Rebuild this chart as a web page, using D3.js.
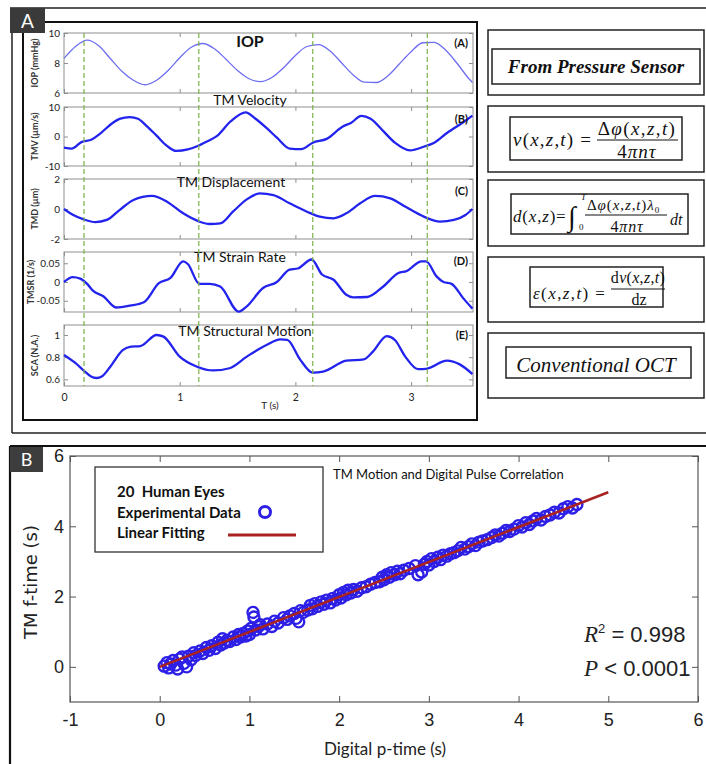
<!DOCTYPE html>
<html>
<head>
<meta charset="utf-8">
<script src="https://cdn.jsdelivr.net/npm/d3@7"></script>
<style>
  body { margin: 0; background: #fff; }
  svg { display: block; }
</style>
</head>
<body>
<div id="chart"></div>
<script>
// ---- Panel A traces (time in s) ----
const iopT = [0,0.1,0.2,0.3,0.4,0.5,0.6,0.7,0.8,0.9,1.0,1.1,1.2,1.3,1.4,1.5,1.6,1.7,1.8,1.9,2.0,2.1,2.2,2.3,2.4,2.5,2.6,2.7,2.8,2.9,3.0,3.1,3.2,3.3,3.4,3.5,3.53];
const iopV = [8.31,9.1,9.52,9.15,8.3,7.45,6.85,6.55,6.85,7.5,8.35,9.05,9.3,8.95,8.25,7.5,6.95,6.76,7.05,7.7,8.5,9.1,9.22,8.8,8.0,7.2,6.72,6.7,7.15,7.95,8.75,9.35,9.38,8.85,7.95,6.95,6.7];

const tmvT = [0,0.066,0.15,0.24,0.31,0.42,0.48,0.57,0.64,0.71,0.8,0.89,0.97,1.07,1.15,1.24,1.32,1.44,1.57,1.65,1.75,1.84,1.95,2.05,2.15,2.27,2.41,2.48,2.57,2.65,2.76,2.86,2.99,3.12,3.2,3.31,3.46,3.53];
const tmvV = [-3.8,-4.1,-1.9,-1.0,0.9,4.6,6.0,6.6,6.0,3.7,0.3,-3.2,-4.9,-4.4,-3.3,-1.6,0.1,5.1,8.2,6.2,2.9,-0.4,-4.1,-4.3,-2.1,-0.8,3.4,4.6,7.0,6.0,1.8,-2.1,-4.7,-3.3,-2.1,1.2,5.1,7.1];

const tmdT = [0,0.08,0.17,0.27,0.37,0.48,0.6,0.76,0.89,1.03,1.17,1.26,1.35,1.46,1.58,1.69,1.81,1.95,2.1,2.21,2.33,2.44,2.56,2.69,2.82,2.96,3.11,3.25,3.37,3.47,3.53];
const tmdV = [0,-0.4,-0.69,-0.87,-0.73,-0.07,0.6,0.87,0.49,-0.29,-0.84,-1.0,-0.96,-0.18,0.64,1.04,0.93,0.38,-0.18,-0.51,-0.62,-0.29,0.38,0.87,0.71,0.11,-0.51,-0.84,-0.73,-0.4,0];

const tmsrT = [0,0.075,0.14,0.2,0.25,0.34,0.45,0.57,0.69,0.82,0.92,1.03,1.07,1.17,1.26,1.35,1.51,1.58,1.72,1.84,1.95,2.02,2.14,2.23,2.33,2.44,2.5,2.62,2.76,2.89,2.96,3.09,3.13,3.22,3.28,3.35,3.45,3.53];
const tmsrV = [0,0.013,0.009,-0.005,-0.023,-0.038,-0.068,-0.063,-0.054,-0.003,0.011,0.055,0.048,-0.005,-0.005,-0.012,-0.079,-0.065,-0.016,0,0.033,0.036,0.06,0.02,0.006,-0.034,-0.041,-0.04,-0.012,0.024,0.029,0.055,0.055,0.015,0,-0.005,-0.043,-0.071];

const scaT = [0,0.095,0.18,0.23,0.28,0.33,0.4,0.51,0.58,0.66,0.8,0.86,1.0,1.15,1.29,1.43,1.58,1.75,1.87,1.93,2.04,2.15,2.24,2.44,2.59,2.67,2.79,2.86,2.95,3.06,3.13,3.31,3.42,3.53];
const scaV = [0.82,0.75,0.67,0.628,0.612,0.628,0.714,0.865,0.895,0.9,1.0,0.985,0.805,0.714,0.68,0.7,0.805,0.91,0.96,0.955,0.78,0.66,0.67,0.768,0.78,0.85,0.99,0.955,0.805,0.692,0.695,0.768,0.735,0.648];

const pulseMarks = [0.173, 1.165, 2.15, 3.14];
const timeTicks = [0, 1, 2, 3];

// ---- Panel B: TM f-time vs digital p-time ----
const pTime = [0.05,0.08,0.10,0.12,0.15,0.18,0.20,0.22,0.25,0.27,0.30,0.32,0.35,0.38,0.40,0.45,0.48,0.52,0.55,0.58,0.62,0.65,0.68,0.70,0.72,0.75,0.78,0.82,0.85,0.88,0.90,0.93,0.96,0.98,1.00,1.02,1.04,1.05,1.07,1.10,1.12,1.15,1.20,1.25,1.28,1.32,1.38,1.42,1.45,1.50,1.52,1.55,1.57,1.60,1.65,1.68,1.70,1.73,1.76,1.80,1.83,1.86,1.90,1.93,1.96,2.00,2.02,2.05,2.08,2.10,2.13,2.16,2.20,2.25,2.30,2.35,2.40,2.45,2.48,2.50,2.53,2.56,2.58,2.62,2.65,2.68,2.72,2.78,2.85,2.88,2.92,2.95,2.98,3.00,3.03,3.06,3.10,3.13,3.16,3.20,3.24,3.28,3.32,3.36,3.40,3.44,3.48,3.52,3.56,3.60,3.65,3.70,3.74,3.78,3.82,3.86,3.90,3.95,4.00,4.04,4.08,4.12,4.16,4.20,4.25,4.30,4.35,4.40,4.45,4.50,4.55,4.60,4.65];
const fTime = [0.02,0.12,-0.03,0.08,0.18,0.05,-0.06,0.22,0.28,0.10,0.00,0.30,0.20,0.40,0.32,0.45,0.38,0.55,0.47,0.60,0.52,0.70,0.62,0.80,0.68,0.75,0.72,0.85,0.78,0.92,0.85,0.95,0.88,1.02,0.92,1.10,1.55,1.42,1.05,1.15,1.20,1.08,1.22,1.15,1.30,1.25,1.40,1.35,1.45,1.52,1.38,1.28,1.60,1.55,1.62,1.75,1.65,1.80,1.72,1.85,1.78,1.90,1.82,1.95,1.90,2.05,1.96,2.12,2.05,2.18,2.10,2.20,2.15,2.25,2.28,2.35,2.40,2.42,2.55,2.48,2.62,2.55,2.68,2.62,2.72,2.65,2.75,2.80,2.88,2.62,2.70,2.92,3.00,2.90,3.08,3.00,3.12,3.05,3.18,3.15,3.22,3.25,3.30,3.40,3.35,3.42,3.50,3.45,3.55,3.58,3.62,3.68,3.75,3.72,3.80,3.88,3.85,3.92,4.02,3.98,4.10,4.05,4.15,4.22,4.18,4.28,4.32,4.40,4.38,4.50,4.56,4.52,4.62];
const fitX = [0, 5];
const fitY = [0, 4.97];
const bTicks = [-1, 0, 1, 2, 3, 4, 5, 6];
const bYLabels = [0, 2, 4, 6];

const W = 706, H = 764;
const SANS = "Lato, 'Open Sans', sans-serif";
const SERIF = "'Liberation Serif', 'Times New Roman', serif";
const NARROW = "'Liberation Sans Narrow', 'Liberation Sans', Arial, sans-serif";

const svg = d3.select("#chart").append("svg").attr("width", W).attr("height", H);
svg.append("rect").attr("width", W).attr("height", H).attr("fill", "#fff");

// ===== Panel A frames =====
svg.append("path").attr("d", "M10,8H706M12,8V433M12,433H706")
  .attr("fill", "none").attr("stroke", "#222").attr("stroke-width", 1.5);
svg.append("rect").attr("x", 23).attr("y", 22).attr("width", 454).attr("height", 398)
  .attr("fill", "none").attr("stroke", "#111").attr("stroke-width", 2);
svg.append("rect").attr("x", 10).attr("y", 8).attr("width", 35).attr("height", 25).attr("fill", "#3a3a3a");
svg.append("text").attr("x", 27.5).attr("y", 28).attr("text-anchor", "middle")
  .attr("font-family", SANS).attr("font-size", 19).attr("fill", "#fff").text("A");

const xA = d3.scaleLinear().domain([0, 3.535]).range([64, 473]);

const subplots = [
  { t: iopT, v: iopV, dom: [6, 10], ticks: [6, 8, 10], top: 33, bot: 93, ylab: "IOP (mmHg)", labX: 38,
    title: "IOP", tx: 250, ty: 47, tsize: 16, tweight: 700, tag: "(A)", tagY: 47, thin: true },
  { t: tmvT, v: tmvV, dom: [-10, 10], ticks: [-10, 0, 10], top: 107, bot: 166, ylab: "TMV (\u00b5m/s)", labX: 38,
    title: "TM Velocity", tx: 250, ty: 105, tsize: 14, tweight: 400, tag: "(B)", tagY: 123 },
  { t: tmdT, v: tmdV, dom: [-2, 2], ticks: [-2, 0, 2], top: 179, bot: 239, ylab: "TMD (\u00b5m)", labX: 38,
    title: "TM Displacement", tx: 231, ty: 187, tsize: 14, tweight: 400, tag: "(C)", tagY: 195 },
  { t: tmsrT, v: tmsrV, dom: [-0.08, 0.08], ticks: [-0.05, 0, 0.05], top: 252, bot: 312, ylab: "TMSR (1/s)", labX: 34,
    title: "TM Strain Rate", tx: 240, ty: 262, tsize: 14, tweight: 400, tag: "(D)", tagY: 265 },
  { t: scaT, v: scaV, dom: [0.54, 1.09], ticks: [0.6, 0.8, 1], top: 325, bot: 386, ylab: "SCA (N.A.)", labX: 38,
    title: "TM Structural Motion", tx: 245, ty: 336, tsize: 14, tweight: 400, tag: "(E)", tagY: 339, xlabels: true }
];

function styleAxis(sel, color) {
  sel.select(".domain").remove();
  sel.selectAll(".tick line").attr("stroke", color);
}

subplots.forEach(s => {
  const y = d3.scaleLinear().domain(s.dom).range([s.bot, s.top]);
  const g = svg.append("g");
  g.append("rect").attr("x", xA(0)).attr("y", s.top)
    .attr("width", xA.range()[1] - xA(0)).attr("height", s.bot - s.top)
    .attr("fill", "none").attr("stroke", "#8f8f8f").attr("stroke-width", 1);

  const axL = g.append("g").attr("transform", `translate(${xA(0)},0)`)
    .call(d3.axisLeft(y).tickValues(s.ticks).tickSize(-4).tickPadding(4).tickFormat(d => String(d)));
  styleAxis(axL, "#8f8f8f");
  axL.selectAll("text").attr("font-family", SANS).attr("font-size", 10).attr("fill", "#222");

  const axR = g.append("g").attr("transform", `translate(${xA.range()[1]},0)`)
    .call(d3.axisRight(y).tickValues(s.ticks).tickSize(-4).tickFormat(""));
  styleAxis(axR, "#8f8f8f");

  const axT = g.append("g").attr("transform", `translate(0,${s.top})`)
    .call(d3.axisTop(xA).tickValues(timeTicks).tickSize(-4).tickFormat(""));
  styleAxis(axT, "#8f8f8f");

  const axB = g.append("g").attr("transform", `translate(0,${s.bot})`)
    .call(d3.axisBottom(xA).tickValues(timeTicks).tickSize(-4).tickPadding(8)
      .tickFormat(s.xlabels ? (d => String(d)) : ""));
  styleAxis(axB, "#8f8f8f");
  axB.selectAll("text").attr("font-family", SANS).attr("font-size", 10.5).attr("fill", "#222");

  const line = d3.line().x(i => xA(s.t[i])).y(i => y(s.v[i])).curve(d3.curveMonotoneX);
  g.append("path").attr("d", line(d3.range(s.t.length)))
    .attr("fill", "none")
    .attr("stroke", s.thin ? "#6e6ef0" : "#2323ee")
    .attr("stroke-width", s.thin ? 1.3 : 2.3)
    .attr("stroke-linejoin", "round");

  g.append("text").attr("x", s.tx).attr("y", s.ty).attr("text-anchor", "middle")
    .attr("font-family", SANS).attr("font-size", s.tsize).attr("font-weight", s.tweight)
    .attr("fill", "#111").text(s.title);
  g.append("text").attr("x", 468).attr("y", s.tagY).attr("text-anchor", "end")
    .attr("font-family", SANS).attr("font-size", 11).attr("font-weight", 700)
    .attr("fill", "#111").text(s.tag);
  g.append("text")
    .attr("transform", `translate(${s.labX},${(s.top + s.bot) / 2}) rotate(-90)`)
    .attr("text-anchor", "middle").attr("font-family", SANS).attr("font-size", 9)
    .attr("font-weight", 700).attr("fill", "#333").text(s.ylab);
});

svg.append("text").attr("x", 270).attr("y", 409).attr("text-anchor", "middle")
  .attr("font-family", SANS).attr("font-size", 10).attr("fill", "#222").text("T (s)");

// green dashed markers across all panels
svg.append("g").selectAll("line").data(pulseMarks).join("line")
  .attr("x1", d => xA(d)).attr("x2", d => xA(d))
  .attr("y1", subplots[0].top).attr("y2", subplots[4].bot)
  .attr("stroke", "#7db24a").attr("stroke-width", 1.2).attr("stroke-dasharray", "5,3");

// ===== Right-hand method boxes =====
const outerBoxes = [[30, 95], [106, 172], [180, 246], [257, 322], [333, 398]];
svg.append("g").selectAll("rect").data(outerBoxes).join("rect")
  .attr("x", 488).attr("y", d => d[0]).attr("width", 216).attr("height", d => d[1] - d[0])
  .attr("fill", "none").attr("stroke", "#222").attr("stroke-width", 1.5);
const innerBoxes = [[492, 49, 208, 35], [510, 117, 172, 43], [511, 194, 177, 40], [530, 267, 133, 40], [506, 347, 185, 31]];
svg.append("g").selectAll("rect").data(innerBoxes).join("rect")
  .attr("x", d => d[0]).attr("y", d => d[1]).attr("width", d => d[2]).attr("height", d => d[3])
  .attr("fill", "none").attr("stroke", "#222").attr("stroke-width", 1.5);

// math text: letters italic, [..] roman
function mtext(x, y, str, size, anchor, spacing) {
  const t = svg.append("text").attr("x", x).attr("y", y).attr("text-anchor", anchor || "start")
    .attr("font-family", SERIF).attr("font-size", size).attr("fill", "#111")
    .attr("letter-spacing", spacing || 0)
    .style("white-space", "pre");
  let roman = false;
  for (const ch of str) {
    if (ch === "[") { roman = true; continue; }
    if (ch === "]") { roman = false; continue; }
    const it = !roman && /[A-Za-z\u03b1-\u03c9\u03c6]/.test(ch);
    t.append("tspan").attr("font-style", it ? "italic" : "normal").text(ch);
  }
  return t;
}
function bar(x1, x2, y) {
  svg.append("line").attr("x1", x1).attr("x2", x2).attr("y1", y).attr("y2", y)
    .attr("stroke", "#111").attr("stroke-width", 1);
}

svg.append("text").attr("x", 596).attr("y", 73).attr("text-anchor", "middle")
  .attr("font-family", SERIF).attr("font-size", 19).attr("font-style", "italic")
  .attr("font-weight", 700).attr("fill", "#111").text("From Pressure Sensor");

mtext(513, 146, "v(x,z,t) =", 19, "start", 1.2);
mtext(637, 135, "\u0394\u03c6(x,z,t)", 19, "middle", 1.4);
bar(597, 678, 140);
mtext(637, 158, "4\u03c0n\u03c4", 19, "middle", 1);

mtext(513, 222, "d(x,z)=", 17, "start", 0.8);
svg.append("text").attr("x", 568).attr("y", 226).attr("font-family", SERIF).attr("font-size", 28)
  .attr("fill", "#111").text("\u222b");
mtext(581, 200, "T", 9);
mtext(579, 230, "[0]", 9);
const num3 = mtext(587, 210, "\u0394\u03c6(x,z,t)\u03bb", 15, "start", 0.9);
num3.append("tspan").attr("font-size", 9).attr("dy", 3).attr("letter-spacing", 0).text("0");
bar(585, 667, 215);
mtext(627, 232, "4\u03c0n\u03c4", 16, "middle", 0.8);
mtext(670, 225, "dt", 16);

mtext(533, 299, "\u03b5(x,z,t) =", 17, "start", 1.4);
mtext(638, 283, "[d]v(x,z,t)", 16, "middle", 0.3);
bar(611, 665, 289);
mtext(639, 305, "[dz]", 16, "middle");

svg.append("text").attr("x", 596).attr("y", 372).attr("text-anchor", "middle")
  .attr("font-family", SERIF).attr("font-size", 21).attr("font-style", "italic")
  .attr("fill", "#111").text("Conventional OCT");

// ===== Panel B =====
svg.append("path").attr("d", "M10,446H706M10,446V764")
  .attr("fill", "none").attr("stroke", "#111").attr("stroke-width", 2.2);
svg.append("rect").attr("x", 10).attr("y", 447).attr("width", 33).attr("height", 25).attr("fill", "#3d3d3d");
svg.append("text").attr("x", 26.5).attr("y", 466).attr("text-anchor", "middle")
  .attr("font-family", SANS).attr("font-size", 18).attr("fill", "#fff").text("B");

const xB = d3.scaleLinear().domain([-1, 6]).range([70, 698]);
const yB = d3.scaleLinear().domain([-1, 6]).range([702, 456]);

svg.append("rect").attr("x", xB(-1)).attr("y", yB(6)).attr("width", xB(6) - xB(-1)).attr("height", yB(-1) - yB(6))
  .attr("fill", "none").attr("stroke", "#555").attr("stroke-width", 1.2);

const gB = svg.append("g");
const bx = gB.append("g").attr("transform", `translate(0,${yB(-1)})`)
  .call(d3.axisBottom(xB).tickValues(bTicks).tickSize(-6).tickPadding(11).tickFormat(d => String(d)));
styleAxis(bx, "#555");
bx.selectAll("text").attr("font-family", NARROW).attr("font-size", 18).attr("fill", "#222");
const bxt = gB.append("g").attr("transform", `translate(0,${yB(6)})`)
  .call(d3.axisTop(xB).tickValues(bTicks).tickSize(-6).tickFormat(""));
styleAxis(bxt, "#555");
const by = gB.append("g").attr("transform", `translate(${xB(-1)},0)`)
  .call(d3.axisLeft(yB).tickValues(bYLabels).tickSize(-6).tickPadding(6).tickFormat(d => String(d)));
styleAxis(by, "#555");
by.selectAll("text").attr("font-family", NARROW).attr("font-size", 18).attr("fill", "#222");
const byr = gB.append("g").attr("transform", `translate(${xB(6)},0)`)
  .call(d3.axisRight(yB).tickValues(bYLabels).tickSize(-6).tickFormat(""));
styleAxis(byr, "#555");

// points, then fit line on top
svg.append("g").selectAll("circle").data(d3.range(pTime.length)).join("circle")
  .attr("cx", i => xB(pTime[i])).attr("cy", i => yB(fTime[i])).attr("r", 5.5)
  .attr("fill", "none").attr("stroke", "#2d1fe6").attr("stroke-width", 2.4);
svg.append("path")
  .attr("d", d3.line().x(i => xB(fitX[i])).y(i => yB(fitY[i]))(d3.range(fitX.length)))
  .attr("stroke", "#a82222").attr("stroke-width", 2.6).attr("fill", "none");

svg.append("text").attr("x", 333).attr("y", 479).attr("font-family", SANS).attr("font-size", 13)
  .attr("fill", "#111").text("TM Motion and Digital Pulse Correlation");

// legend
svg.append("rect").attr("x", 95).attr("y", 467).attr("width", 228).attr("height", 85)
  .attr("fill", "#fff").attr("stroke", "#333").attr("stroke-width", 1.3);
const legendLines = ["20  Human Eyes", "Experimental Data", "Linear Fitting"];
svg.append("g").selectAll("text").data(legendLines).join("text")
  .attr("x", 117).attr("y", (d, i) => 497 + i * 20.5)
  .attr("font-family", SANS).attr("font-size", 15).attr("font-weight", 700)
  .attr("fill", "#111").style("white-space", "pre").text(d => d);
svg.append("circle").attr("cx", 265).attr("cy", 512).attr("r", 5.5)
  .attr("fill", "none").attr("stroke", "#2d1fe6").attr("stroke-width", 3);
svg.append("line").attr("x1", 228).attr("x2", 296).attr("y1", 535).attr("y2", 535)
  .attr("stroke", "#a82222").attr("stroke-width", 3);

// stats
const r2 = svg.append("text").attr("x", 584).attr("y", 642).attr("fill", "#222");
r2.append("tspan").attr("font-family", SERIF).attr("font-style", "italic").attr("font-size", 23).text("R");
r2.append("tspan").attr("font-family", NARROW).attr("font-size", 13).attr("dy", -9).text("2");
r2.append("tspan").attr("font-family", NARROW).attr("font-size", 22).attr("dy", 9).text(" = 0.998");
const pv = svg.append("text").attr("x", 584).attr("y", 676).attr("fill", "#222");
pv.append("tspan").attr("font-family", SERIF).attr("font-style", "italic").attr("font-size", 23).text("P");
pv.append("tspan").attr("font-family", NARROW).attr("font-size", 22).text(" < 0.0001");

svg.append("text").attr("x", 385).attr("y", 755).attr("text-anchor", "middle")
  .attr("font-family", SANS).attr("font-size", 17).attr("fill", "#222").text("Digital p-time (s)");
svg.append("text").attr("transform", "translate(37,582) rotate(-90)").attr("text-anchor", "middle")
  .attr("font-family", "'DejaVu Sans', sans-serif").attr("font-size", 18).attr("fill", "#222")
  .text("TM f-time (s)");
</script>
</body>
</html>
